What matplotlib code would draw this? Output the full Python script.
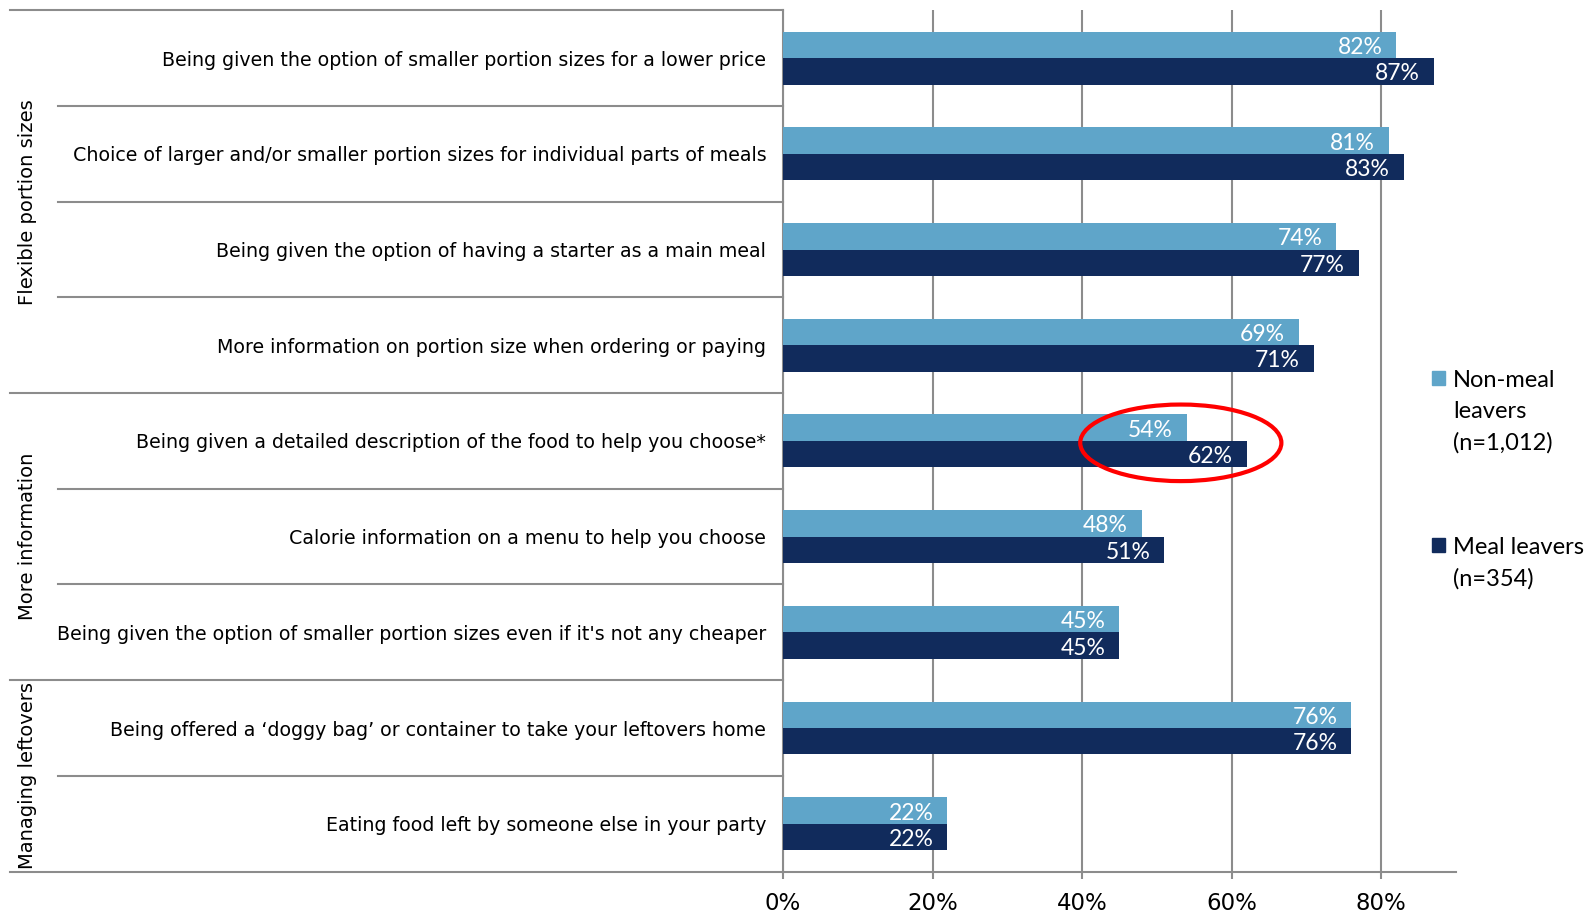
import matplotlib
matplotlib.use("Agg")
import matplotlib.pyplot as plt
from matplotlib.patches import Ellipse, Rectangle
from matplotlib.lines import Line2D
from matplotlib.transforms import blended_transform_factory

# ---- data -------------------------------------------------------------
categories = [
    "Being given the option of smaller portion sizes for a lower price",
    "Choice of larger and/or smaller portion sizes for individual parts of meals",
    "Being given the option of having a starter as a main meal",
    "More information on portion size when ordering or paying",
    "Being given a detailed description of the food to help you choose*",
    "Calorie information on a menu to help you choose",
    "Being given the option of smaller portion sizes even if it's not any cheaper",
    "Being offered a \u2018doggy bag\u2019 or container to take your leftovers home",
    "Eating food left by someone else in your party",
]
non_meal_leavers = [82, 81, 74, 69, 54, 48, 45, 76, 22]
meal_leavers = [87, 83, 77, 71, 62, 51, 45, 76, 22]
series_names = ["Non-meal\nleavers\n(n=1,012)", "Meal leavers\n(n=354)"]
groups = ["Flexible portion sizes", "More information", "Managing leftovers"]
group_sizes = [4, 3, 2]
x_ticks = [0, 20, 40, 60, 80]
highlight_index = 4

# ---- style ------------------------------------------------------------
light = "#5FA5C9"
dark = "#112B5C"
grid_grey = "#8C8C8C"
narrow = ["DejaVu Sans Condensed", "DejaVu Sans"]
label_font = ["Lato", "DejaVu Sans"]

fig = plt.figure(figsize=(15.93, 9.14), dpi=100)
axis_x = 0.4915
ax = fig.add_axes([axis_x, 0.0464, 0.4225, 0.9424])

n = len(categories)
y = list(range(n))
bar_h = 0.276
y_light = [v - bar_h / 2 for v in y]
y_dark = [v + bar_h / 2 for v in y]

b1 = ax.barh(y_light, non_meal_leavers, height=bar_h, color=light, zorder=3)
b2 = ax.barh(y_dark, meal_leavers, height=bar_h, color=dark, zorder=3)

for bars, vals in ((b1, non_meal_leavers), (b2, meal_leavers)):
    for rect, v in zip(bars, vals):
        ax.annotate(f"{v}%", xy=(v, rect.get_y() + rect.get_height() / 2),
                    xytext=(-10, -1.8), textcoords="offset points",
                    ha="right", va="center", color="white",
                    fontsize=16.5, family=label_font, zorder=4)

ax.set_xlim(0, 90)
ax.set_ylim(n - 0.5, -0.5)

ax.set_xticks(x_ticks)
ax.set_xticklabels([f"{t}%" for t in x_ticks], family=narrow, fontsize=16.5)
ax.tick_params(axis="x", direction="out", length=5, width=1.5,
               color=grid_grey, pad=9.5)
ax.set_yticks(y)
ax.set_yticklabels(categories, family=narrow, fontsize=13.7)
ax.tick_params(axis="y", length=0, pad=12)

ax.grid(axis="x", color=grid_grey, linewidth=1.5, zorder=0)
ax.set_axisbelow(True)
for side in ("top", "right"):
    ax.spines[side].set_visible(False)
for side in ("left", "bottom"):
    ax.spines[side].set_color(grid_grey)
    ax.spines[side].set_linewidth(1.5)

# separators of the label column
trans = blended_transform_factory(fig.transFigure, ax.transData)
group_edges = [-0.5]
for s in group_sizes:
    group_edges.append(group_edges[-1] + s)
for edge in [i - 0.5 for i in range(n + 1)]:
    x_start = 0.0064 if edge in group_edges else 0.0364
    fig.add_artist(Line2D([x_start, axis_x], [edge, edge], transform=trans,
                          color=grid_grey, linewidth=1.5, clip_on=False))

# group names, rotated
for name, lo, hi in zip(groups, group_edges[:-1], group_edges[1:]):
    fig.text(0.0175, (lo + hi) / 2, name, transform=trans, rotation=90,
             ha="center", va="center", fontsize=14, family="DejaVu Sans")

# highlight around one pair of bars
ell = Ellipse((53.2, highlight_index + 0.02), width=26.9, height=0.80,
              fill=False, edgecolor="#FF0000", linewidth=3, zorder=5,
              clip_on=False)
ax.add_patch(ell)

# legend
legend_items = [(light, series_names[0], 0.5864), (dark, series_names[1], 0.4037)]
for color, text, ytop in legend_items:
    fig.add_artist(Rectangle((0.8990, ytop - 0.0072), 0.0083, 0.0145,
                             transform=fig.transFigure, color=color))
    fig.text(0.9121, ytop + 0.0085, text, ha="left", va="top", fontsize=17,
             family=label_font, linespacing=1.58)

fig.savefig("out.png", dpi=100)
